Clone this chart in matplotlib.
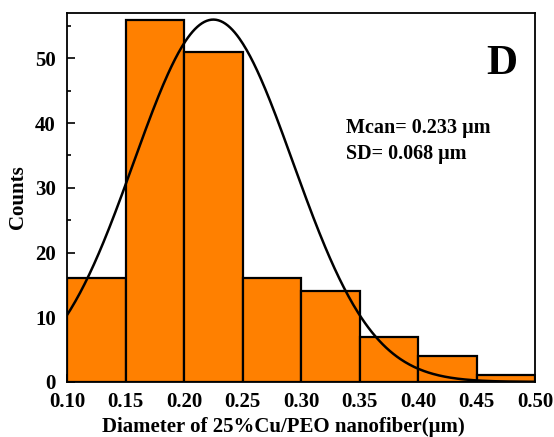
import numpy as np
import matplotlib
matplotlib.use("Agg")
import matplotlib.pyplot as plt
from matplotlib.ticker import MultipleLocator

bin_edges = [0.10, 0.15, 0.20, 0.25, 0.30, 0.35, 0.40, 0.45, 0.50]
counts = [16, 56, 51, 16, 14, 7, 4, 1]
fit_mean = 0.225
fit_sd = 0.068
fit_peak = 56.0
xticks = [0.10, 0.15, 0.20, 0.25, 0.30, 0.35, 0.40, 0.45, 0.50]
yticks = [0, 10, 20, 30, 40, 50]

plt.rcParams['font.family'] = ['Liberation Serif', 'DejaVu Serif']
plt.rcParams['font.weight'] = 'bold'

fig = plt.figure(figsize=(5.54, 4.37), dpi=100)
ax = fig.add_axes([0.121, 0.126, 0.845, 0.844])

lefts = np.array(bin_edges[:-1])
widths = np.diff(bin_edges)
ax.bar(lefts, counts, width=widths, align='edge', color='#FF8000',
       edgecolor='black', linewidth=1.6, zorder=2)

xs = np.linspace(0.10, 0.50, 400)
ys = fit_peak * np.exp(-(xs - fit_mean) ** 2 / (2 * fit_sd ** 2))
ax.plot(xs, ys, color='black', linewidth=1.8, zorder=3)

ax.set_xlim(0.10, 0.50)
ax.set_ylim(0, 57)
ax.set_xticks(xticks)
ax.set_xticklabels([f"{v:.2f}" for v in xticks])
ax.set_yticks(yticks)
ax.xaxis.set_minor_locator(MultipleLocator(0.025))
ax.yaxis.set_minor_locator(MultipleLocator(5))
ax.tick_params(which='both', direction='in', top=False, right=False,
               labelsize=15, width=1.2)
ax.tick_params(axis='x', which='major', length=6, pad=7)
ax.tick_params(axis='y', which='major', length=6, pad=8)
ax.tick_params(which='minor', length=3)
for lab in ax.get_xticklabels() + ax.get_yticklabels():
    lab.set_fontweight('bold')
for s in ax.spines.values():
    s.set_linewidth(1.3)

ax.set_xlabel("Diameter of 25%Cu/PEO nanofiber(μm)", fontsize=15,
              fontweight='bold')
ax.xaxis.set_label_coords(0.462, -0.095)
ax.set_ylabel("Counts", fontsize=15, fontweight='bold', labelpad=5)

ax.text(0.962, 0.862, "D", transform=ax.transAxes, fontsize=31,
        fontweight='bold', ha='right', va='center')
ax.text(0.596, 0.688, "Mcan= 0.233 μm", transform=ax.transAxes,
        fontsize=14.5, fontweight='bold', ha='left', va='center')
ax.text(0.596, 0.618, "SD= 0.068 μm", transform=ax.transAxes,
        fontsize=14.5, fontweight='bold', ha='left', va='center')

fig.savefig("out.png", dpi=100)
